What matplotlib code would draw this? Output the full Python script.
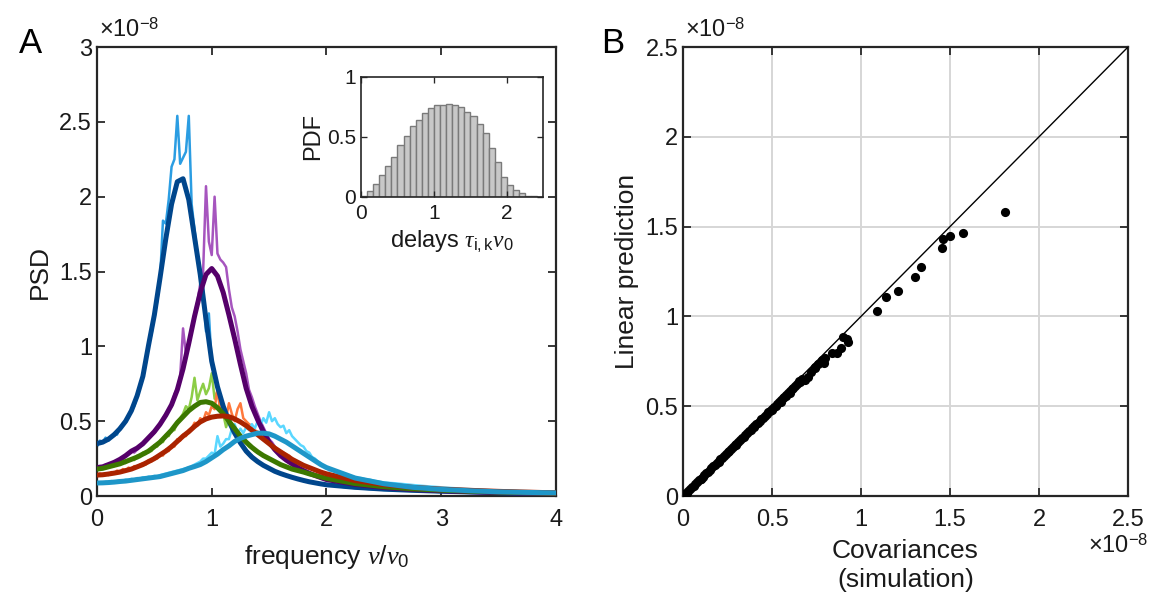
import numpy as np
import matplotlib
matplotlib.use('Agg')
import matplotlib.pyplot as plt

plt.rcParams['font.family'] = ['Liberation Sans', 'DejaVu Sans']
plt.rcParams['mathtext.fontset'] = 'custom'
plt.rcParams['mathtext.rm'] = 'Liberation Sans'
plt.rcParams['mathtext.it'] = 'Liberation Serif:italic'
plt.rcParams['mathtext.bf'] = 'Liberation Sans:bold'
plt.rcParams['mathtext.sf'] = 'Liberation Sans'

# ---------------- Panel A data (PSD in units of 1e-8) ----------------
freq_smooth = [0.00, 0.05, 0.10, 0.15, 0.20, 0.25, 0.30, 0.35, 0.40, 0.45,
               0.50, 0.55, 0.60, 0.65, 0.70, 0.75, 0.80, 0.85, 0.90, 0.95,
               1.00, 1.05, 1.10, 1.15, 1.20, 1.25, 1.30, 1.35, 1.40, 1.45,
               1.50, 1.55, 1.60, 1.65, 1.70, 1.75, 1.80, 1.85, 1.90, 1.95,
               2.00, 2.25, 2.50, 2.75, 3.00, 3.25, 3.50, 3.75, 4.00]

smooth_blue = [.35, .36, .38, .41, .45, .50, .57, .67, .80, 1.01,
               1.21, 1.46, 1.72, 1.95, 2.10, 2.12, 1.98, 1.73, 1.48, 1.18,
               .90, .73, .60, .50, .42, .355, .30, .26, .23, .205,
               .185, .165, .15, .137, .125, .114, .104, .095, .088, .081,
               .075, .058, .046, .038, .032, .027, .022, .018, .014]
smooth_purple = [.19, .195, .21, .225, .245, .27, .30, .32, .35, .39,
                 .43, .48, .54, .61, .71, .85, 1.02, 1.20, 1.36, 1.48,
                 1.52, 1.47, 1.36, 1.21, 1.05, .88, .72, .60, .51, .43,
                 .36, .31, .27, .24, .215, .19, .17, .152, .137, .123,
                 .11, .078, .057, .044, .035, .029, .024, .020, .016]
smooth_green = [.18, .185, .195, .205, .215, .23, .245, .26, .28, .30,
                .33, .36, .40, .44, .49, .53, .57, .60, .625, .63,
                .62, .59, .55, .50, .45, .40, .36, .325, .295, .27,
                .25, .23, .21, .195, .18, .17, .16, .148, .138, .128,
                .118, .083, .062, .048, .039, .032, .027, .022, .019]
smooth_red = [.14, .142, .147, .153, .16, .17, .18, .195, .21, .23,
              .25, .275, .30, .33, .365, .40, .43, .465, .495, .515,
              .527, .533, .535, .53, .515, .495, .47, .44, .41, .38,
              .35, .32, .295, .27, .245, .225, .205, .19, .175, .16,
              .148, .103, .076, .058, .046, .038, .031, .026, .021]
smooth_cyan = [.087, .088, .09, .093, .097, .10, .105, .11, .115, .12,
               .125, .13, .14, .15, .16, .17, .185, .197, .21, .23,
               .255, .28, .31, .335, .365, .385, .40, .41, .42, .42,
               .415, .40, .38, .36, .335, .31, .285, .26, .235, .21,
               .19, .12, .082, .058, .044, .035, .028, .024, .021]

freq_noisy = [0.000, 0.025, 0.050, 0.075, 0.100, 0.125, 0.150, 0.175, 0.200, 0.225,
              0.250, 0.275, 0.300, 0.325, 0.350, 0.375, 0.400, 0.425, 0.450, 0.475,
              0.500, 0.525, 0.550, 0.575, 0.600, 0.625, 0.650, 0.675, 0.700, 0.725,
              0.750, 0.775, 0.800, 0.825, 0.850, 0.875, 0.900, 0.925, 0.950, 0.975,
              1.000, 1.025, 1.050, 1.075, 1.100, 1.125, 1.150, 1.175, 1.200, 1.225,
              1.250, 1.275, 1.300, 1.325, 1.350, 1.375, 1.400, 1.425, 1.450, 1.475,
              1.500, 1.525, 1.550, 1.575, 1.600, 1.625, 1.650, 1.675, 1.700, 1.725,
              1.750, 1.775, 1.800, 1.825, 1.850, 1.875, 1.900, 1.925, 1.950, 1.975,
              2.000, 2.025, 2.050, 2.075, 2.100, 2.125, 2.150, 2.175, 2.200, 2.225,
              2.250, 2.275, 2.300, 2.325, 2.350, 2.375, 2.400, 2.425, 2.450, 2.475,
              2.500,
              2.6, 2.8, 3.0, 3.2, 3.4, 3.6, 3.8, 4.0]

noisy_blue = [.33, .37, .36, .39, .37, .40, .42, .41, .46, .47,
              .51, .52, .58, .60, .66, .74, .79, .88, 1.02, 1.08,
              1.20, 1.30, 1.45, 1.84, 1.82, 1.98, 2.20, 2.25, 2.54, 2.22,
              2.26, 2.30, 2.54, 1.95, 1.78, 1.62, 1.50, 1.38, 1.10, 1.22,
              .88, .82, .74, .66, .60, .56, .50, .46, .43, .38,
              .36, .33, .31, .28, .27, .24, .23, .22, .20, .195,
              .18, .175, .165, .155, .15, .14, .135, .13, .125, .12,
              .115, .11, .10, .10, .095, .09, .088, .085, .08, .078,
              .075, .072, .07, .067, .065, .063, .06, .058, .058, .055,
              .053, .052, .05, .049, .048, .046, .045, .044, .043, .042,
              .041,
              .038, .033, .028, .024, .021, .018, .016, .014]
noisy_purple = [.18, .20, .19, .21, .20, .22, .23, .22, .25, .24,
                .27, .28, .30, .29, .31, .33, .34, .36, .38, .40,
                .42, .45, .47, .52, .55, .57, .60, .68, .72, .80,
                1.12, .95, 1.00, 1.12, 1.22, 1.30, 1.42, 1.50, 2.07, 1.70,
                1.61, 2.00, 1.62, 1.58, 1.56, 1.53, 1.38, 1.26, 1.20, 1.10,
                .98, .90, .82, .71, .66, .60, .55, .50, .46, .42,
                .38, .36, .33, .30, .28, .27, .25, .23, .22, .205,
                .195, .18, .175, .165, .155, .15, .14, .135, .13, .12,
                .115, .11, .105, .10, .095, .092, .088, .085, .08, .078,
                .075, .072, .07, .066, .064, .062, .06, .058, .056, .054,
                .052,
                .048, .042, .036, .031, .027, .024, .021, .018]
noisy_green = [.17, .19, .18, .20, .19, .21, .20, .22, .21, .23,
               .22, .24, .25, .24, .27, .26, .29, .28, .31, .30,
               .34, .33, .37, .36, .41, .40, .45, .44, .50, .52,
               .55, .60, .58, .66, .79, .64, .70, .75, .68, .72,
               .82, .65, .70, .58, .55, .46, .52, .48, .45, .42,
               .40, .37, .36, .33, .32, .30, .30, .28, .27, .26,
               .25, .24, .23, .22, .21, .205, .195, .19, .18, .175,
               .17, .165, .16, .15, .145, .14, .135, .13, .125, .12,
               .115, .11, .105, .10, .096, .092, .088, .085, .082, .079,
               .076, .073, .07, .068, .066, .064, .062, .06, .058, .056,
               .054,
               .05, .043, .037, .032, .028, .025, .022, .019]
noisy_orange = [.13, .15, .14, .15, .14, .16, .15, .17, .16, .18,
                .17, .19, .18, .20, .19, .21, .22, .21, .24, .23,
                .26, .25, .28, .27, .31, .30, .34, .33, .38, .37,
                .41, .40, .44, .45, .49, .47, .52, .50, .56, .54,
                .60, .58, .72, .56, .60, .52, .62, .55, .50, .58,
                .62, .52, .50, .48, .47, .44, .43, .40, .39, .36,
                .36, .33, .33, .31, .30, .29, .28, .27, .25, .24,
                .23, .22, .21, .20, .19, .185, .175, .17, .16, .155,
                .15, .145, .14, .13, .125, .12, .115, .11, .107, .10,
                .098, .094, .09, .087, .084, .081, .078, .075, .073, .07,
                .068,
                .062, .054, .046, .04, .035, .031, .027, .024]
noisy_cyan = [.08, .09, .085, .095, .09, .10, .095, .10, .105, .10,
              .11, .105, .115, .11, .12, .115, .125, .12, .13, .125,
              .135, .13, .14, .145, .15, .155, .16, .165, .17, .175,
              .18, .185, .19, .20, .21, .22, .23, .25, .25, .27,
              .29, .28, .40, .33, .35, .38, .38, .45, .48, .42,
              .45, .42, .46, .44, .48, .45, .50, .47, .52, .49,
              .56, .50, .52, .48, .46, .47, .42, .44, .40, .38,
              .36, .34, .33, .30, .29, .26, .25, .23, .22, .20,
              .19, .17, .175, .16, .155, .15, .14, .145, .135, .13,
              .125, .12, .12, .115, .11, .11, .105, .10, .098, .094,
              .09,
              .085, .07, .058, .048, .04, .034, .029, .025]

# inset histogram of delays
delay_edges = [0.0, 0.0833, 0.1667, 0.25, 0.3333, 0.4167, 0.5, 0.5833, 0.6667, 0.75,
               0.8333, 0.9167, 1.0, 1.0833, 1.1667, 1.25, 1.3333, 1.4167, 1.5, 1.5833,
               1.6667, 1.75, 1.8333, 1.9167, 2.0, 2.0833, 2.1667, 2.25, 2.3333, 2.4167, 2.5]
delay_pdf = [0.01, 0.05, 0.11, 0.18, 0.26, 0.33, 0.43, 0.51, 0.59, 0.64,
             0.70, 0.74, 0.77, 0.77, 0.775, 0.77, 0.75, 0.71, 0.675, 0.61,
             0.53, 0.405, 0.29, 0.17, 0.10, 0.055, 0.03, 0.01, 0.005, 0.0]

# ---------------- Panel B data (units of 1e-8) ----------------
cov_sim = [0.000, 0.004, 0.008, 0.012, 0.016, 0.020, 0.030, 0.040, 0.050, 0.060,
           0.070, 0.080, 0.090, 0.100, 0.110, 0.120, 0.130, 0.140, 0.150, 0.160,
           0.170, 0.180, 0.190, 0.200, 0.210, 0.220, 0.230, 0.240, 0.250, 0.260,
           0.270, 0.280, 0.290, 0.300, 0.310, 0.320, 0.330, 0.340, 0.350, 0.360,
           0.370, 0.380, 0.390, 0.400, 0.410, 0.420, 0.430, 0.440, 0.450, 0.460,
           0.470, 0.480, 0.490, 0.500, 0.510, 0.520, 0.530, 0.540, 0.550, 0.560,
           0.570, 0.580, 0.590, 0.600, 0.615, 0.630,
           0.100, 0.200, 0.300, 0.400, 0.500, 0.550, 0.580, 0.600,
           0.620, 0.640, 0.650, 0.660, 0.670, 0.685, 0.700, 0.720, 0.740, 0.742,
           0.760, 0.780, 0.790, 0.800, 0.835, 0.863, 0.888, 0.897, 0.920, 0.925,
           1.092, 1.140, 1.210, 1.303, 1.335, 1.453, 1.462, 1.500, 1.571, 1.809]
cov_pred = [0.000, 0.003, 0.008, 0.011, 0.015, 0.019, 0.028, 0.039, 0.048, 0.058,
            0.068, 0.077, 0.088, 0.097, 0.107, 0.116, 0.127, 0.136, 0.146, 0.155,
            0.166, 0.175, 0.185, 0.194, 0.205, 0.214, 0.224, 0.233, 0.244, 0.252,
            0.263, 0.272, 0.282, 0.291, 0.302, 0.311, 0.321, 0.330, 0.341, 0.349,
            0.360, 0.369, 0.379, 0.388, 0.399, 0.407, 0.418, 0.427, 0.437, 0.446,
            0.457, 0.465, 0.476, 0.485, 0.496, 0.503, 0.514, 0.523, 0.535, 0.544,
            0.552, 0.563, 0.571, 0.582, 0.596, 0.612,
            0.092, 0.189, 0.286, 0.383, 0.478, 0.525, 0.555, 0.575,
            0.600, 0.625, 0.640, 0.635, 0.650, 0.646, 0.665, 0.690, 0.710, 0.720,
            0.735, 0.757, 0.739, 0.770, 0.798, 0.795, 0.822, 0.887, 0.872, 0.856,
            1.030, 1.110, 1.143, 1.221, 1.273, 1.379, 1.429, 1.448, 1.466, 1.583]

# ---------------- styling ----------------
AXC = '#262626'
pairs = [
    (noisy_blue, smooth_blue, '#2b9de2', '#00468c'),
    (noisy_purple, smooth_purple, '#a655be', '#55006a'),
    (noisy_green, smooth_green, '#8ccd46', '#3c7800'),
    (noisy_orange, smooth_red, '#ff783c', '#aa2300'),
    (noisy_cyan, smooth_cyan, '#5ad7ff', '#1e96c8'),
]

fig = plt.figure(figsize=(11.6, 6.06), dpi=100)


def style_axes(ax, fs, lw=1.6, tl=6):
    for s in ax.spines.values():
        s.set_linewidth(lw)
        s.set_color(AXC)
    ax.tick_params(direction='in', length=tl, width=lw * 0.8, colors=AXC,
                   labelsize=fs, top=True, right=True, labelcolor='#1a1a1a')


# Panel A
axA = fig.add_axes([0.0836, 0.1815, 0.3957, 0.7409])
for noisy, smooth, cn, cs in pairs:
    axA.plot(freq_noisy, noisy, color=cn, lw=1.8, zorder=2)
    axA.plot(freq_smooth, smooth, color=cs, lw=3.6, zorder=3,
             solid_capstyle='round', solid_joinstyle='round')
axA.set_xlim(0, 4)
axA.set_ylim(0, 3)
axA.set_xticks([0, 1, 2, 3, 4])
axA.set_xticklabels(['0', '1', '2', '3', '4'])
axA.set_yticks([0, 0.5, 1, 1.5, 2, 2.5, 3])
axA.set_yticklabels(['0', '0.5', '1', '1.5', '2', '2.5', '3'])
style_axes(axA, 17)
axA.tick_params(axis='x', pad=9)
axA.set_xlabel(r'frequency $\nu/\nu_0$', fontsize=19, color='#1a1a1a')
axA.xaxis.set_label_coords(0.5, -0.105)
axA.set_ylabel('PSD', fontsize=19, color='#1a1a1a')
axA.yaxis.set_label_coords(-0.098, 0.5)
axA.text(0.005, 1.012, r'$\times10^{-8}$', transform=axA.transAxes,
         fontsize=17, ha='left', va='bottom', color='#1a1a1a')
fig.text(0.026, 0.928, 'A', fontsize=25, ha='center', va='center')

# inset
axI = fig.add_axes([0.3112, 0.675, 0.1573, 0.198])
widths = [delay_edges[i + 1] - delay_edges[i] for i in range(len(delay_pdf))]
axI.bar(delay_edges[:-1], delay_pdf, width=widths, align='edge',
        color='#c8c8c8', edgecolor='#7a7a7a', linewidth=1.0)
axI.set_xlim(0, 2.5)
axI.set_ylim(0, 1)
axI.set_xticks([0, 1, 2])
axI.set_xticklabels(['0', '1', '2'])
axI.set_yticks([0, 0.5, 1])
axI.set_yticklabels(['0', '0.5', '1'])
style_axes(axI, 15, lw=1.2, tl=4)
axI.tick_params(axis='x', pad=5)
axI.set_xlabel(r'delays $\tau_{\mathrm{i,k}}\nu_0$', fontsize=17, color='#1a1a1a', labelpad=4)
axI.set_ylabel('PDF', fontsize=17, color='#1a1a1a', labelpad=2)

# Panel B
axB = fig.add_axes([0.5888, 0.1815, 0.3836, 0.7409])
axB.set_axisbelow(True)
axB.grid(True, color='#d6d6d6', lw=1.4)
axB.plot([0, 2.5], [0, 2.5], color='black', lw=1.0, zorder=3)
axB.plot(cov_sim, cov_pred, 'o', color='black', ms=6.6, mew=0, zorder=4)
axB.set_xlim(0, 2.5)
axB.set_ylim(0, 2.5)
ticksB = [0, 0.5, 1, 1.5, 2, 2.5]
labB = ['0', '0.5', '1', '1.5', '2', '2.5']
axB.set_xticks(ticksB)
axB.set_xticklabels(labB)
axB.set_yticks(ticksB)
axB.set_yticklabels(labB)
style_axes(axB, 17)
axB.tick_params(axis='x', pad=9)
axB.set_xlabel('Covariances\n(simulation)', fontsize=19, color='#1a1a1a', linespacing=1.3)
axB.xaxis.set_label_coords(0.5, -0.095)
axB.set_ylabel('Linear prediction', fontsize=19, color='#1a1a1a')
axB.yaxis.set_label_coords(-0.098, 0.5)
axB.text(0.005, 1.012, r'$\times10^{-8}$', transform=axB.transAxes,
         fontsize=17, ha='left', va='bottom', color='#1a1a1a')
axB.text(1.045, -0.085, r'$\times10^{-8}$', transform=axB.transAxes,
         fontsize=17, ha='right', va='top', color='#1a1a1a')
fig.text(0.528, 0.928, 'B', fontsize=25, ha='center', va='center')

fig.savefig('out.png', dpi=100)
